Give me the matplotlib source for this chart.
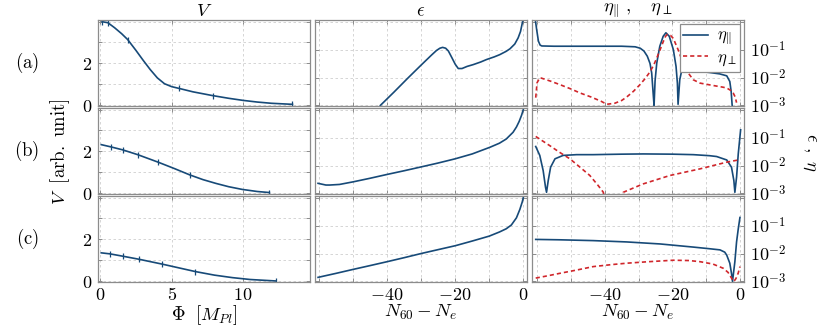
import matplotlib
matplotlib.use("Agg")
import matplotlib.pyplot as plt
from matplotlib.ticker import NullLocator

plt.rcParams['mathtext.fontset'] = 'cm'
plt.rcParams['font.family'] = ['DejaVu Serif']
plt.rcParams['font.size'] = 12

BLUE = '#174a78'
RED = '#d0262b'
GREY = '#8c8c8c'

# ---- potentials V(Phi) ----
phi_a = [0.12, 0.53, 1.0, 1.5, 1.92, 2.5, 3.0, 3.5, 4.0, 4.5, 5.0, 5.49, 6.5, 7.87, 9.0, 10.0, 11.0, 12.0, 13.47]
V_a = [4.0, 3.95, 3.71, 3.42, 3.14, 2.62, 2.15, 1.70, 1.30, 1.02, 0.88, 0.80, 0.63, 0.45, 0.32, 0.22, 0.14, 0.08, 0.03]
phi_a_mk = [0.12, 0.53, 1.92, 5.49, 7.87, 13.47]
V_a_mk = [4.0, 3.95, 3.14, 0.80, 0.45, 0.03]

phi_b = [0.07, 0.76, 1.57, 2.62, 4.05, 5.2, 6.3, 7.2, 8.1, 9.0, 9.95, 11.0, 11.85]
V_b = [2.32, 2.21, 2.07, 1.84, 1.48, 1.17, 0.86, 0.64, 0.46, 0.30, 0.17, 0.07, 0.02]
phi_b_mk = [0.76, 1.57, 2.62, 4.05, 6.3, 11.85]
V_b_mk = [2.21, 2.07, 1.84, 1.48, 0.86, 0.02]

phi_c = [0.07, 0.69, 1.57, 2.73, 4.33, 5.5, 6.67, 8.0, 9.26, 10.5, 12.3]
V_c = [1.35, 1.30, 1.19, 1.04, 0.81, 0.63, 0.45, 0.28, 0.16, 0.07, 0.0]
phi_c_mk = [0.69, 1.57, 2.73, 4.33, 6.67, 12.3]
V_c_mk = [1.30, 1.19, 1.04, 0.81, 0.45, 0.0]

# ---- epsilon(N) ----
N_eps_a = [-42, -38, -34, -30, -27, -25.5, -24.5, -23.7, -22.8, -22, -21, -20, -19.1, -18, -16.5,
           -14.7, -12.5, -10.8, -8.5, -6.9, -5, -3.9, -2.5, -1.5, -0.8, -0.2, 0]
eps_a = [1.0e-3, 3.0e-3, 9.3e-3, 2.8e-2, 6.3e-2, 9.3e-2, 0.112, 0.120, 0.112, 8.9e-2, 5.2e-2,
         3.0e-2, 2.1e-2, 2.1e-2, 2.5e-2, 2.9e-2, 3.6e-2, 4.4e-2, 5.5e-2, 6.6e-2, 8.7e-2,
         0.107, 0.158, 0.263, 0.447, 1.0, 1.12]

N_eps_b = [-60.3, -58, -56.9, -54, -50, -45, -40, -35, -30.4, -25, -20, -15, -9.8, -7, -5, -3,
           -2, -1.2, -0.5, 0]
eps_b = [2.3e-3, 2.0e-3, 2.0e-3, 2.1e-3, 2.6e-3, 3.5e-3, 4.8e-3, 6.5e-3, 8.7e-3, 1.23e-2,
         1.74e-2, 2.6e-2, 4.5e-2, 6.3e-2, 8.9e-2, 0.155, 0.24, 0.38, 0.63, 1.0]

N_eps_c = [-60.3, -55, -50, -45, -40, -35, -30, -25, -20, -15, -10, -7, -5, -3.5, -2, -1, -0.3, 0]
eps_c = [1.4e-3, 1.95e-3, 2.7e-3, 3.7e-3, 5.1e-3, 7.1e-3, 1.0e-2, 1.38e-2, 1.9e-2, 2.8e-2,
         4.2e-2, 5.9e-2, 7.7e-2, 0.105, 0.19, 0.38, 0.70, 1.0]

# ---- eta_parallel, eta_perp (N) ----
N_par_a = [-60.5, -60.1, -59.6, -59.1, -58.6, -55, -45, -35, -31, -29.5, -28.4, -27.4, -26.6,
           -26.1, -25.6, -25.4, -25.1, -24.6, -23.7, -22.7, -21.9, -20.9, -19.7, -18.9, -18.5,
           -18.3, -17.8, -17.3, -16.3, -12, -8.9, -6, -3.9, -3.0, -2.6, -2.3]
par_a = [1.12, 0.50, 0.20, 0.145, 0.135, 0.132, 0.132, 0.132, 0.126, 0.112, 8.9e-2, 5.8e-2,
         3.2e-2, 1.45e-2, 2.1e-3, 1.0e-3, 7.6e-3, 3.3e-2, 0.132, 0.30, 0.40, 0.30, 0.10,
         2.5e-2, 6.3e-3, 1.1e-3, 8.3e-3, 1.62e-2, 1.78e-2, 1.66e-2, 1.51e-2, 1.35e-2,
         1.15e-2, 7.2e-3, 3.2e-3, 1.0e-3]

N_perp_a = [-60.4, -60.0, -59.2, -58.7, -56, -53.3, -50, -47.3, -44, -41, -39.4, -37, -35,
            -33.5, -31.5, -29.6, -28, -26.6, -25.5, -24.6, -23.6, -22.7, -22, -21.5, -20.5,
            -19.7, -18.3, -16.8, -15.3, -13.8, -11.8, -8, -5, -3.9, -2.8, -2, -1.4, -1.0]
perp_a = [1.9e-3, 6.5e-3, 9.8e-3, 9.5e-3, 7.4e-3, 5.6e-3, 3.9e-3, 2.8e-3, 2.0e-3, 1.4e-3,
          1.1e-3, 1.2e-3, 1.5e-3, 2.0e-3, 3.2e-3, 5.5e-3, 9.3e-3, 1.6e-2, 2.8e-2, 5.0e-2,
          0.10, 0.19, 0.30, 0.35, 0.32, 0.25, 0.10, 3.3e-2, 1.45e-2, 8.3e-3, 6.3e-3, 5.2e-3,
          4.5e-3, 4.2e-3, 3.5e-3, 2.8e-3, 2.0e-3, 1.26e-3]

N_par_b = [-60.4, -59.2, -58.2, -57.5, -57.2, -56.7, -56, -54.7, -52.3, -48.3, -43.4, -35,
           -28.6, -20, -13.8, -9, -6.9, -3.9, -2.5, -1.8, -1.5, -1.0, -0.5, 0.2]
par_b = [4.8e-2, 2.3e-2, 6.6e-3, 1.66e-3, 1.1e-3, 2.9e-3, 8.7e-3, 1.74e-2, 2.3e-2, 2.45e-2,
         2.45e-2, 2.55e-2, 2.6e-2, 2.55e-2, 2.45e-2, 2.25e-2, 2.1e-2, 1.58e-2, 8.7e-3,
         2.9e-3, 1.1e-3, 3.8e-3, 2.6e-2, 0.19]

N_perp_b = [-60.4, -56.3, -53.3, -50.3, -47.3, -44.4, -41.9, -40.4, -39.8, -35.0, -34.5,
            -31.6, -28.6, -20.7, -11.8, -3.9, 0]
perp_b = [0.110, 5.2e-2, 2.95e-2, 1.74e-2, 8.7e-3, 4.4e-3, 1.9e-3, 1.1e-3, 3.0e-4, 3.0e-4,
          1.1e-3, 1.55e-3, 2.2e-3, 4.4e-3, 7.6e-3, 1.32e-2, 1.62e-2]

N_par_c = [-60.4, -53.3, -43.4, -33.5, -23.6, -13.8, -8.9, -5.9, -4.5, -3.9, -3.0, -2.5, -2.2,
           -1.5, -1.0, -0.5, 0]
par_c = [3.2e-2, 3.1e-2, 2.9e-2, 2.6e-2, 2.2e-2, 1.7e-2, 1.48e-2, 1.35e-2, 1.12e-2, 8.7e-3,
         4.5e-3, 1.95e-3, 1.0e-3, 5.1e-3, 2.6e-2, 7.6e-2, 0.195]

N_perp_c = [-60.4, -57, -53.3, -48, -43.4, -38, -33.5, -27, -19.7, -15, -11.8, -8, -4.9, -3.5,
            -2.5, -1.8, -1.2, -0.5, 0]
perp_c = [1.32e-3, 1.58e-3, 1.95e-3, 2.6e-3, 3.4e-3, 4.0e-3, 4.5e-3, 5.1e-3, 5.75e-3, 5.6e-3,
          5.1e-3, 4.2e-3, 2.95e-3, 2.1e-3, 1.32e-3, 1.0e-3, 1.26e-3, 2.0e-3, 3.4e-3]

V_rows = [(phi_a, V_a, phi_a_mk, V_a_mk), (phi_b, V_b, phi_b_mk, V_b_mk), (phi_c, V_c, phi_c_mk, V_c_mk)]
eps_rows = [(N_eps_a, eps_a), (N_eps_b, eps_b), (N_eps_c, eps_c)]
eta_rows = [(N_par_a, par_a, N_perp_a, perp_a), (N_par_b, par_b, N_perp_b, perp_b),
            (N_par_c, par_c, N_perp_c, perp_c)]
row_names = ['a', 'b', 'c']

W, H = 831, 328
fig = plt.figure(figsize=(W / 100, H / 100), dpi=100)

col_left = [98, 315, 532]
col_w = 212
row_top = [20, 108, 196]
row_h = 86

TICK_FS = 13
LAB_FS = 13.5


def make_ax(c, r):
    return fig.add_axes([col_left[c] / W, 1 - (row_top[r] + row_h) / H, col_w / W, row_h / H])


def style(ax):
    for s in ax.spines.values():
        s.set_color(GREY)
        s.set_linewidth(0.9)
    ax.tick_params(which='both', direction='in', top=True, right=True, color=GREY,
                   length=3, width=0.7, labelsize=TICK_FS, pad=4)
    ax.tick_params(axis='x', pad=3)
    ax.grid(True, which='both', color='#cfcfcf', linestyle=(0, (3, 3)), linewidth=0.6)
    ax.set_axisbelow(True)


for r in range(3):
    # V(Phi)
    ax = make_ax(0, r)
    style(ax)
    x, y, xm, ym = V_rows[r]
    ax.plot(x, y, color=BLUE, lw=1.2)
    ax.plot(xm, ym, ls='none', marker='|', ms=4, mew=0.9, color=BLUE)
    ax.set_xlim(-0.16, 14.7)
    ax.set_ylim(-0.05, 4.08)
    ax.set_yticks([0, 1, 2, 3, 4], ['$0$', '', '$2$', '', ''])
    ax.set_xticks([0, 5, 10])
    if r == 2:
        ax.set_xticklabels(['$0$', '$5$', '$10$'])
        ax.set_xlabel(r'$\Phi\ \ [M_{Pl}]$', fontsize=LAB_FS, labelpad=-1)
    else:
        ax.set_xticklabels([])
    if r == 0:
        ax.set_title('$V$', fontsize=LAB_FS, pad=3)

    # epsilon
    ax = make_ax(1, r)
    style(ax)
    xe, ye = eps_rows[r]
    ax.plot(xe, ye, color=BLUE, lw=1.2)
    ax.set_yscale('log')
    ax.set_ylim(10 ** -3.02, 10 ** 0.06)
    ax.set_yticks([1e-3, 1e-2, 1e-1, 1])
    ax.yaxis.set_minor_locator(NullLocator())
    ax.set_yticklabels([])
    ax.set_xlim(-61.2, 1.1)
    ax.set_xticks([-40, -20, 0])
    ax.set_xticks([-60, -50, -30, -10], minor=True)
    if r == 2:
        ax.set_xticklabels(['$-40$', '$-20$', '$0$'])
        ax.set_xlabel('$N_{60}-N_e$', fontsize=LAB_FS, labelpad=-1)
    else:
        ax.set_xticklabels([])
    if r == 0:
        ax.set_title(r'$\epsilon$', fontsize=LAB_FS, pad=3)

    # eta
    ax = make_ax(2, r)
    style(ax)
    xp, yp, xq, yq = eta_rows[r]
    ax.plot(xp, yp, color=BLUE, lw=1.2, label=r'$\eta_{\|}$')
    ax.plot(xq, yq, color=RED, lw=1.2, ls=(0, (2.5, 1.8)), label=r'$\eta_{\perp}$')
    ax.set_yscale('log')
    ax.set_ylim(10 ** -3.02, 10 ** 0.06)
    ax.set_yticks([1e-3, 1e-2, 1e-1, 1])
    ax.yaxis.set_minor_locator(NullLocator())
    ax.set_yticklabels(['$10^{-3}$', '$10^{-2}$', '$10^{-1}$', ''])
    ax.yaxis.tick_right()
    ax.tick_params(which='both', left=True, right=True, labelleft=False, labelright=True)
    ax.set_xlim(-61.5, 1.2)
    ax.set_xticks([-40, -20, 0])
    ax.set_xticks([-60, -50, -30, -10], minor=True)
    if r == 2:
        ax.set_xticklabels(['$-40$', '$-20$', '$0$'])
        ax.set_xlabel('$N_{60}-N_e$', fontsize=LAB_FS, labelpad=-1)
    else:
        ax.set_xticklabels([])
    if r == 0:
        ax.set_title(r'$\eta_{\|}\ ,\ \ \ \eta_{\perp}$', fontsize=LAB_FS, pad=3)
        leg = ax.legend(loc='upper right', fontsize=12, handlelength=1.5, handletextpad=0.5,
                        borderpad=0.2, labelspacing=0.05, fancybox=False, framealpha=1,
                        borderaxespad=0.25)
        leg.get_frame().set_edgecolor(GREY)
        leg.get_frame().set_linewidth(0.9)

    # row label
    fig.text(27 / W, 1 - (row_top[r] + 43) / H, r'$(\mathrm{' + row_names[r] + '})$',
             fontsize=LAB_FS, ha='center', va='center')

fig.text(60 / W, 1 - 152 / H, r'$V\ \ [\mathrm{arb.\ unit}]$', rotation=90,
         fontsize=LAB_FS, ha='center', va='center')
fig.text(810 / W, 1 - 152 / H, r'$\epsilon\ ,\ \eta$', rotation=270,
         fontsize=LAB_FS, ha='center', va='center')

fig.savefig('out.png', dpi=100)
